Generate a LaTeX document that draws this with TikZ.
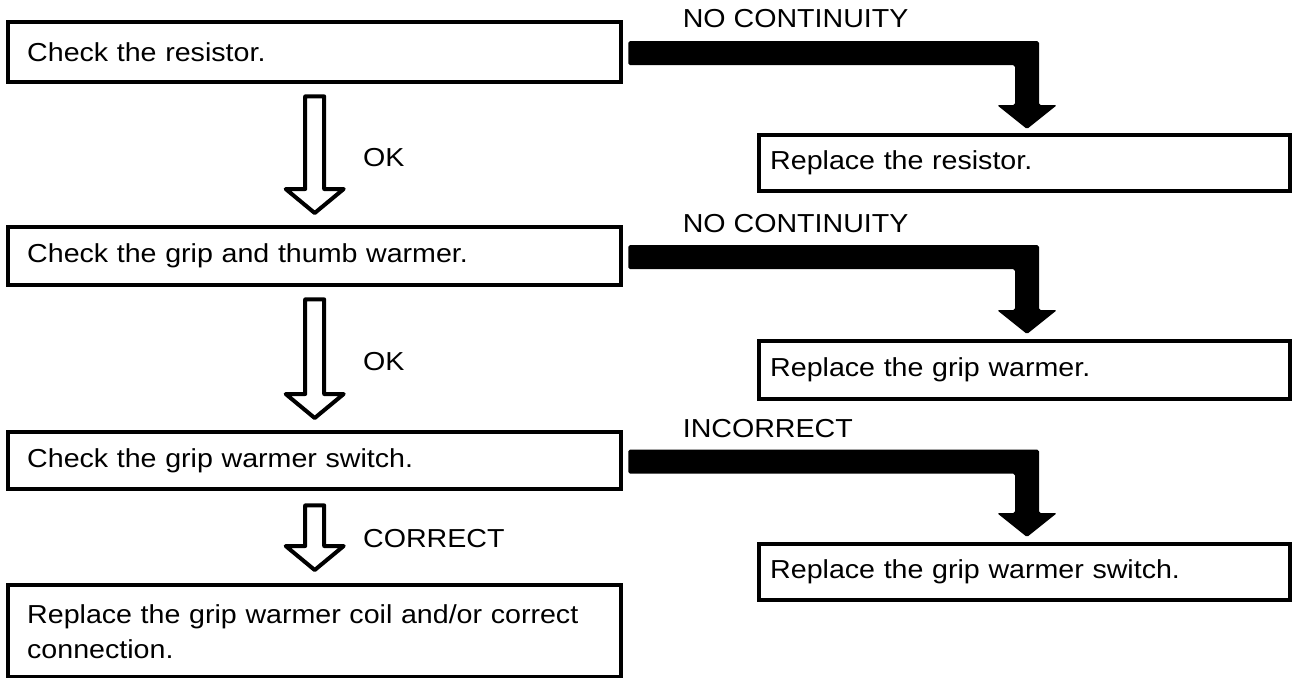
\documentclass[tikz,border=0pt]{standalone}
\usepackage{fontspec}
\setmainfont{Liberation Sans}[FakeStretch=1.1]
\usetikzlibrary{calc}
\begin{document}
\begin{tikzpicture}[x=0.5pt,y=-0.5pt,
  every node/.style={font=\fontsize{13pt}{17.5pt}\selectfont},
  stepbox/.style={draw, line width=2.2pt, rectangle, anchor=north west,
    align=left, inner ysep=0pt},
  leftbox/.style={stepbox, inner xsep=9.5pt, minimum width=306.5pt, text width=287.5pt},
  fixbox/.style={stepbox, inner xsep=5.5pt, minimum width=265.5pt, text width=254.5pt},
  hollowarrow/.style={draw, line width=2pt, fill=white, line join=round},
  blockarrow/.style={fill=black, rounded corners=0.8pt},
  lbl/.style={anchor=west, inner sep=0pt}
]
\useasboundingbox (0,0) rectangle (1295,677);

% checks on the left
\node[leftbox, minimum height=30pt] (b1) at (6,20) {Check the resistor.};
\node[leftbox, minimum height=29pt] (b2) at (6,225) {Check the grip and thumb warmer.};
\node[leftbox, minimum height=28.5pt] (b3) at (6,430) {Check the grip warmer switch.};
\node[leftbox, minimum height=46pt] (b4) at (6,583)
  {Replace the grip warmer coil and/or correct\\connection.};

% remedies on the right
\node[fixbox, minimum height=28pt] (r1) at (757,133) {Replace the resistor.};
\node[fixbox, minimum height=29pt] (r2) at (757,339) {Replace the grip warmer.};
\node[fixbox, minimum height=28pt] (r3) at (757,542) {Replace the grip warmer switch.};

% hollow arrows between the checks
\newcommand\hollowdown[2]{%
  \draw[hollowarrow] ($(#1)+(-9.5,0)$) -- ($(#2)+(-9.5,-24)$) -- ($(#2)+(-29,-24)$)
    -- (#2) -- ($(#2)+(29,-24)$) -- ($(#2)+(9.5,-24)$) -- ($(#1)+(9.5,0)$) -- cycle;}
\coordinate (a1s) at ($(b1.south)+(0,12)$);
\coordinate (a1t) at ($(b2.north)+(0,-12)$);
\coordinate (a2s) at ($(b2.south)+(0,12)$);
\coordinate (a2t) at ($(b3.north)+(0,-12)$);
\coordinate (a3s) at ($(b3.south)+(0,14)$);
\coordinate (a3t) at ($(b4.north)+(0,-13)$);
\hollowdown{a1s}{a1t}
\hollowdown{a2s}{a2t}
\hollowdown{a3s}{a3t}
\node[lbl] (ok1) at ($(a1s)!0.5!(a1t)+(48,3)$) {OK};
\node[lbl] (ok2) at ($(a2s)!0.5!(a2t)+(48,3)$) {OK};
\node[lbl] (ok3) at ($(a3s)!0.5!(a3t)+(48,1)$) {CORRECT};

% solid elbow arrows to the remedies
\newcommand\blockelbow[2]{%
  \fill[blockarrow] ($(#1.east)+(5,-11)$) -- ($(#1.east -| #2)+(12,-11)$)
    -- ($(#2)+(12,-24)$) -- ($(#2)+(30,-24)$) -- (#2) -- ($(#2)+(-30,-24)$)
    -- ($(#2)+(-12,-24)$) -- ($(#1.east -| #2)+(-12,13)$) -- ($(#1.east)+(5,13)$) -- cycle;}
\coordinate (k1) at ($(r1.north west)+(270,-4)$);
\coordinate (k2) at ($(r2.north west)+(270,-5)$);
\coordinate (k3) at ($(r3.north west)+(270,-5)$);
\blockelbow{b1}{k1}
\blockelbow{b2}{k2}
\blockelbow{b3}{k3}
\node[lbl] (n1) at ($(b1.east)+(59,-34)$) {NO CONTINUITY};
\node[lbl] (n2) at ($(b2.east)+(59,-33)$) {NO CONTINUITY};
\node[lbl] (n3) at ($(b3.east)+(59,-32)$) {INCORRECT};
\end{tikzpicture}
\end{document}
